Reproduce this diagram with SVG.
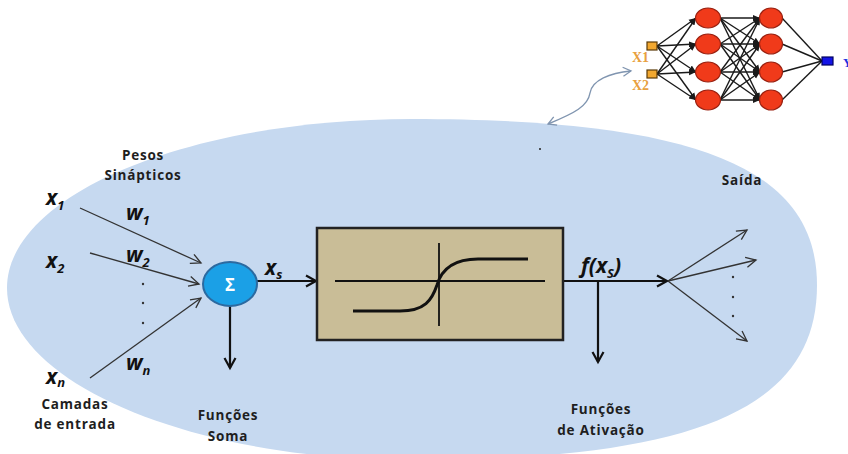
<svg xmlns="http://www.w3.org/2000/svg" width="848" height="454" viewBox="0 0 848 454">
<defs>
<style>
.lbl{font-family:"Open Sans","Liberation Sans",sans-serif;font-weight:bold;font-size:13.5px;fill:#1e1e1e;text-anchor:middle;letter-spacing:0.8px}
.var{font-family:"Open Sans","Liberation Sans",sans-serif;font-weight:bold;font-style:italic;font-size:21px;fill:#111}
.sub{font-size:13px}
.thin{stroke:#333;stroke-width:1.3;fill:none}
.thick{stroke:#111;stroke-width:2.2;fill:none}
.net{stroke:#1a1a1a;stroke-width:1.4;fill:none}
.node{fill:#f03a1a;stroke:#9a2010;stroke-width:1.2}
.in{fill:#f2a830;stroke:#5a3a08;stroke-width:1.2}
.inl{font-family:"Liberation Serif",serif;font-weight:bold;font-size:14px;fill:#e8a040}
</style>
<marker id="openThin" markerUnits="userSpaceOnUse" markerWidth="14" markerHeight="14" refX="12" refY="7" orient="auto">
<path d="M2,2 L12,7 L2,12" fill="none" stroke="#333" stroke-width="1.3"/>
</marker>
<marker id="openThick" markerUnits="userSpaceOnUse" markerWidth="16" markerHeight="16" refX="13" refY="8" orient="auto">
<path d="M3,2.5 L13,8 L3,13.5" fill="none" stroke="#111" stroke-width="2.2"/>
</marker>
<marker id="netArrow" markerUnits="userSpaceOnUse" markerWidth="8" markerHeight="8" refX="7" refY="4" orient="auto">
<path d="M0,1 L7,4 L0,7 Z" fill="#1a1a1a"/>
</marker>
<marker id="blueArrow" markerUnits="userSpaceOnUse" markerWidth="12" markerHeight="12" refX="10" refY="6" orient="auto-start-reverse">
<path d="M2,1.5 L10,6 L2,10.5" fill="none" stroke="#8095b0" stroke-width="1.3"/>
</marker>
</defs>

<g id="background">
<path d="M7,288 C7,195 188,119 412,119 C695,119 817,167 817,285 C817,409 695,460 412,460 C188,460 7,381 7,288 Z" fill="#c6d9f0"/>
<circle cx="540" cy="149" r="1" fill="#222"/>
</g>

<g id="inset-network">
<g id="inset-edges">
<line class="net" x1="657" y1="46" x2="696" y2="18" marker-end="url(#netArrow)"/>
<line class="net" x1="657" y1="46" x2="696" y2="44" marker-end="url(#netArrow)"/>
<line class="net" x1="657" y1="46" x2="696" y2="72" marker-end="url(#netArrow)"/>
<line class="net" x1="657" y1="46" x2="696" y2="100" marker-end="url(#netArrow)"/>
<line class="net" x1="657" y1="74" x2="696" y2="18" marker-end="url(#netArrow)"/>
<line class="net" x1="657" y1="74" x2="696" y2="44" marker-end="url(#netArrow)"/>
<line class="net" x1="657" y1="74" x2="696" y2="72" marker-end="url(#netArrow)"/>
<line class="net" x1="657" y1="74" x2="696" y2="100" marker-end="url(#netArrow)"/>
<line class="net" x1="720" y1="18" x2="760" y2="18" marker-end="url(#netArrow)"/>
<line class="net" x1="720" y1="18" x2="760" y2="44" marker-end="url(#netArrow)"/>
<line class="net" x1="720" y1="18" x2="760" y2="72" marker-end="url(#netArrow)"/>
<line class="net" x1="720" y1="18" x2="760" y2="100" marker-end="url(#netArrow)"/>
<line class="net" x1="720" y1="44" x2="760" y2="18" marker-end="url(#netArrow)"/>
<line class="net" x1="720" y1="44" x2="760" y2="44" marker-end="url(#netArrow)"/>
<line class="net" x1="720" y1="44" x2="760" y2="72" marker-end="url(#netArrow)"/>
<line class="net" x1="720" y1="44" x2="760" y2="100" marker-end="url(#netArrow)"/>
<line class="net" x1="720" y1="72" x2="760" y2="18" marker-end="url(#netArrow)"/>
<line class="net" x1="720" y1="72" x2="760" y2="44" marker-end="url(#netArrow)"/>
<line class="net" x1="720" y1="72" x2="760" y2="72" marker-end="url(#netArrow)"/>
<line class="net" x1="720" y1="72" x2="760" y2="100" marker-end="url(#netArrow)"/>
<line class="net" x1="720" y1="100" x2="760" y2="18" marker-end="url(#netArrow)"/>
<line class="net" x1="720" y1="100" x2="760" y2="44" marker-end="url(#netArrow)"/>
<line class="net" x1="720" y1="100" x2="760" y2="72" marker-end="url(#netArrow)"/>
<line class="net" x1="720" y1="100" x2="760" y2="100" marker-end="url(#netArrow)"/>
<line class="net" x1="782" y1="18" x2="822" y2="61"/>
<line class="net" x1="782" y1="44" x2="822" y2="61"/>
<line class="net" x1="782" y1="72" x2="822" y2="61"/>
<line class="net" x1="782" y1="100" x2="822" y2="61"/>
</g>
<g id="net-in1"><rect class="in" x="647" y="42" width="10" height="8"/><text class="inl" x="632" y="62">X1</text></g>
<g id="net-in2"><rect class="in" x="647" y="70" width="10" height="8"/><text class="inl" x="632" y="90">X2</text></g>
<g id="net-h1"><ellipse class="node" cx="708" cy="18" rx="12.5" ry="10"/><ellipse class="node" cx="708" cy="44" rx="12.5" ry="10"/><ellipse class="node" cx="708" cy="72" rx="12.5" ry="10"/><ellipse class="node" cx="708" cy="100" rx="12.5" ry="10"/></g>
<g id="net-h2"><ellipse class="node" cx="771" cy="18" rx="11.5" ry="10"/><ellipse class="node" cx="771" cy="44" rx="11.5" ry="10"/><ellipse class="node" cx="771" cy="72" rx="11.5" ry="10"/><ellipse class="node" cx="771" cy="100" rx="11.5" ry="10"/></g>
<g id="net-out"><rect x="822" y="57" width="11" height="8" fill="#1414e6" stroke="#000060" stroke-width="1.2"/><text x="843" y="67" font-family="Liberation Serif,serif" font-weight="bold" font-size="13" fill="#2030e0">Y</text></g>
</g>

<g id="connectors">
<path d="M548,124 C575,113 588,106 590,93 C592,80 610,73 631,71" fill="none" stroke="#8095b0" stroke-width="1.4" marker-start="url(#blueArrow)" marker-end="url(#blueArrow)"/>
<line class="thin" x1="80" y1="208" x2="201" y2="263" marker-end="url(#openThin)"/>
<line class="thin" x1="90" y1="253" x2="199" y2="284" marker-end="url(#openThin)"/>
<line class="thin" x1="90" y1="378" x2="201" y2="298" marker-end="url(#openThin)"/>
<line class="thick" x1="257" y1="281" x2="316" y2="281" marker-end="url(#openThick)"/>
<line class="thick" x1="230" y1="305" x2="230" y2="368" marker-end="url(#openThick)"/>
<line class="thick" x1="563" y1="281" x2="667" y2="281" marker-end="url(#openThick)"/>
<line class="thick" x1="598" y1="281" x2="598" y2="362" marker-end="url(#openThick)"/>
<line class="thin" x1="668" y1="281" x2="747" y2="230" marker-end="url(#openThin)"/>
<line class="thin" x1="668" y1="281" x2="756" y2="260" marker-end="url(#openThin)"/>
<line class="thin" x1="668" y1="281" x2="747" y2="341" marker-end="url(#openThin)"/>
</g>

<g id="inputs">
<text class="var" x="46" y="205">x<tspan class="sub" dy="5">1</tspan></text>
<text class="var" x="46" y="268">x<tspan class="sub" dy="5">2</tspan></text>
<text class="var" x="46" y="384">x<tspan class="sub" dy="3">n</tspan></text>
<circle cx="143" cy="284" r="1.2" fill="#333"/>
<circle cx="143" cy="303" r="1.2" fill="#333"/>
<circle cx="143" cy="323" r="1.2" fill="#333"/>
<text class="lbl" x="75" y="409">Camadas</text>
<text class="lbl" x="75" y="429">de entrada</text>
</g>

<g id="weights">
<text class="lbl" x="143" y="160">Pesos</text>
<text class="lbl" x="143" y="180">Sinápticos</text>
<text class="var" x="126" y="220">w<tspan class="sub" dy="5">1</tspan></text>
<text class="var" x="126" y="262">w<tspan class="sub" dy="5">2</tspan></text>
<text class="var" x="126" y="370">w<tspan class="sub" dy="5">n</tspan></text>
</g>

<g id="sum">
<ellipse cx="230" cy="284" rx="27" ry="22" fill="#1ba0e6" stroke="#2c6aa0" stroke-width="2"/>
<text x="230" y="291" font-family="Open Sans,Liberation Sans,sans-serif" font-weight="bold" font-size="17" fill="#fff" text-anchor="middle">Σ</text>
<text class="var" x="265" y="275">x<tspan class="sub" dy="4">s</tspan></text>
<text class="lbl" x="228" y="420">Funções</text>
<text class="lbl" x="228" y="441">Soma</text>
</g>

<g id="activation">
<rect x="317" y="228" width="246" height="112" fill="#c9bd97" stroke="#222" stroke-width="2.5"/>
<line x1="335" y1="281" x2="545" y2="281" stroke="#111" stroke-width="1.8"/>
<line x1="439" y1="243" x2="439" y2="326" stroke="#111" stroke-width="1.8"/>
<path d="M353,311 L400,311 C425,311 432,300 437,285 C442,268 455,259 478,259 L528,259" fill="none" stroke="#111" stroke-width="3"/>
<text class="var" x="581" y="273">f(x<tspan class="sub" dy="5">S</tspan><tspan dy="-5">)</tspan></text>
<text class="lbl" x="601" y="414">Funções</text>
<text class="lbl" x="601" y="435">de Ativação</text>
</g>

<g id="output">
<text class="lbl" x="742" y="185">Saída</text>
<circle cx="733" cy="277" r="1.2" fill="#333"/>
<circle cx="733" cy="297" r="1.2" fill="#333"/>
<circle cx="733" cy="316" r="1.2" fill="#333"/>
</g>
</svg>
